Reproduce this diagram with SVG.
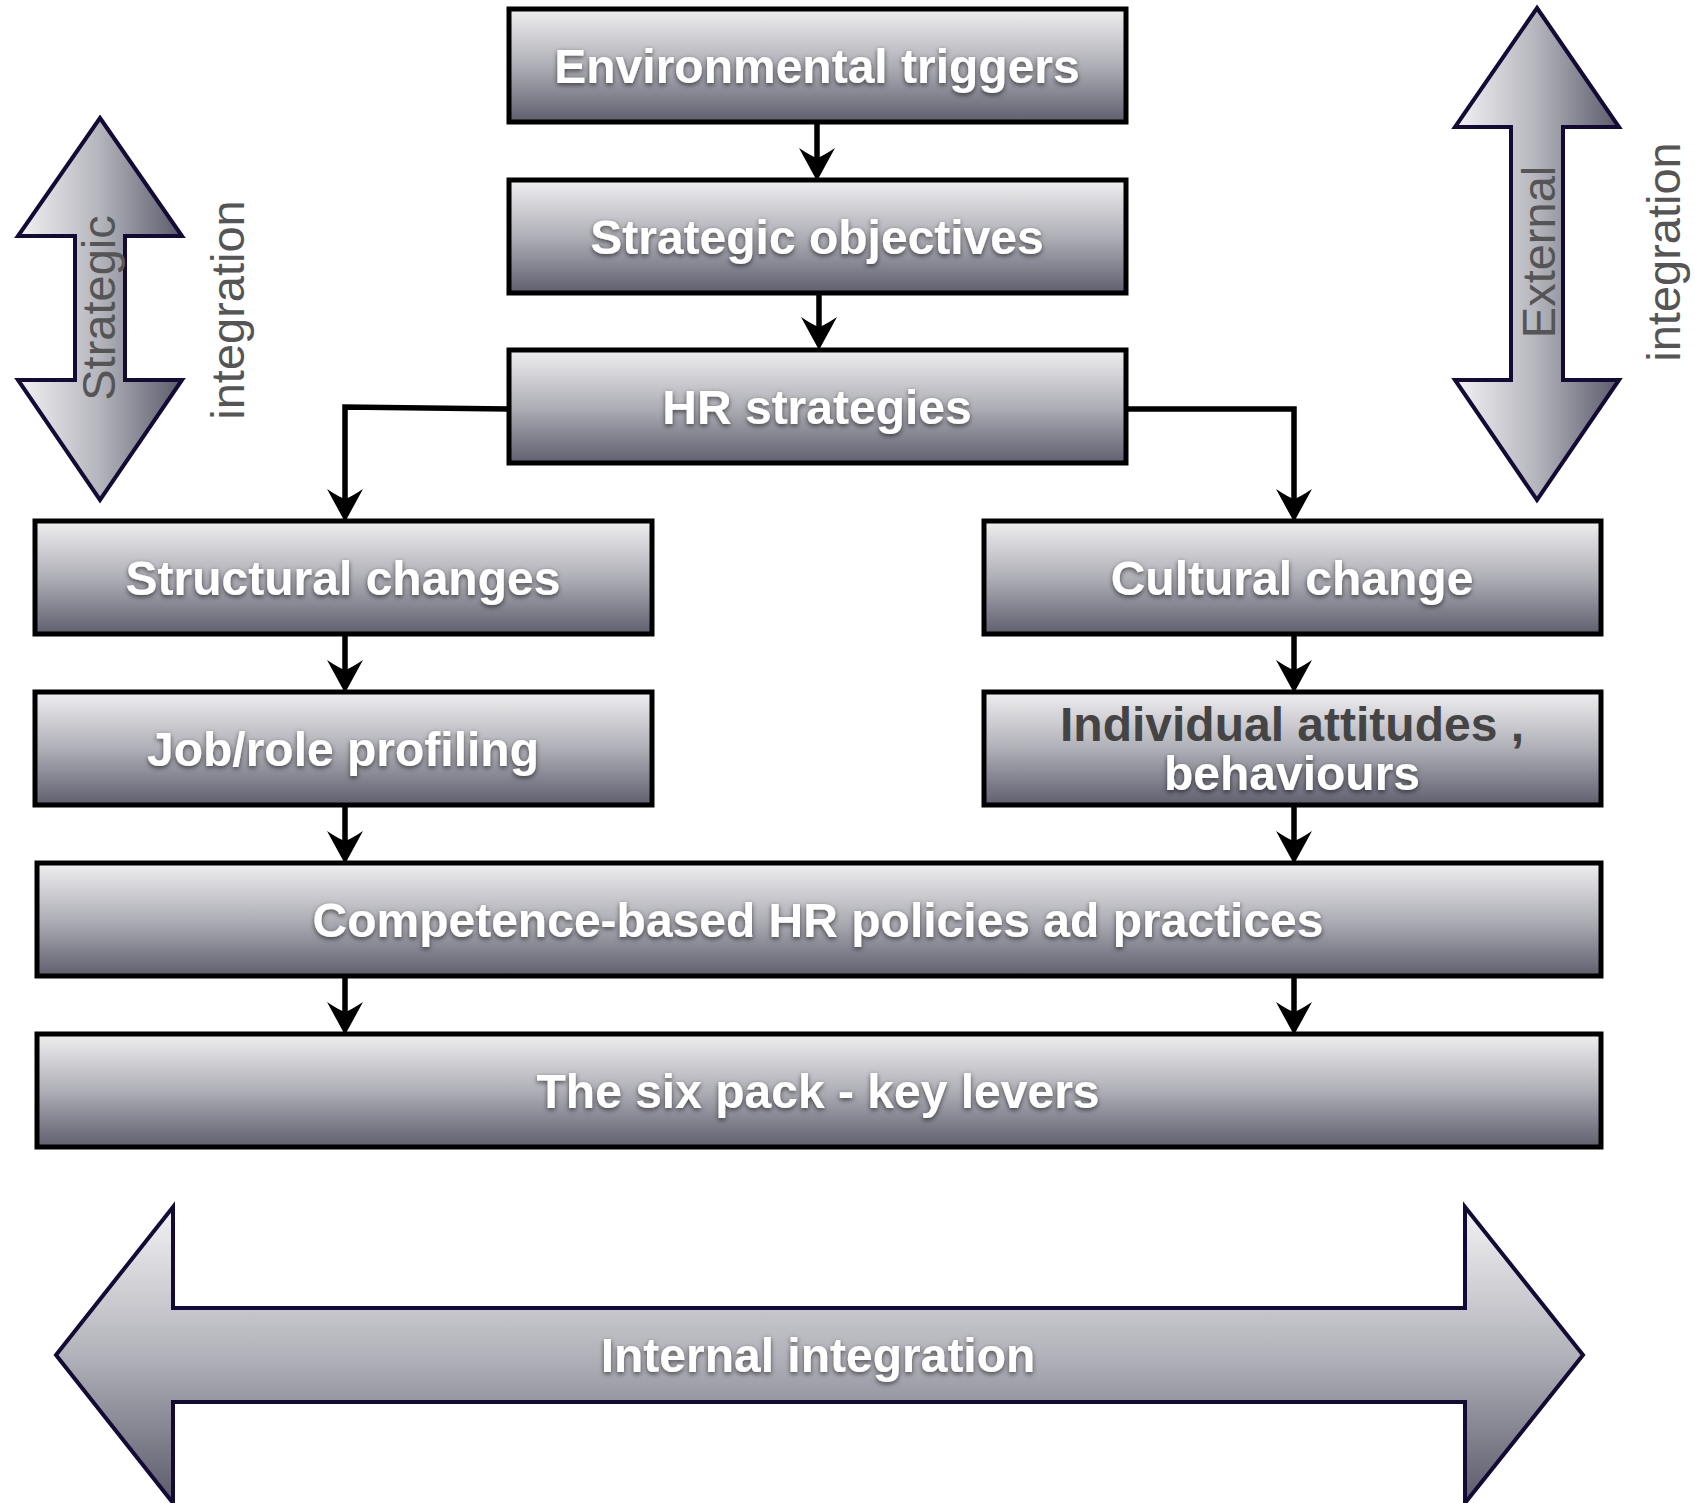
<svg xmlns="http://www.w3.org/2000/svg" width="1695" height="1503" viewBox="0 0 1695 1503">
<defs>
  <linearGradient id="boxGrad" x1="0" y1="0" x2="0" y2="1">
    <stop offset="0" stop-color="#efeff1"/>
    <stop offset="0.5" stop-color="#afafb7"/>
    <stop offset="1" stop-color="#5e5e6e"/>
  </linearGradient>
  <linearGradient id="vArrowGrad" x1="0" y1="0" x2="1" y2="0">
    <stop offset="0" stop-color="#f3f3f5"/>
    <stop offset="0.5" stop-color="#b4b4bc"/>
    <stop offset="1" stop-color="#5a5a6a"/>
  </linearGradient>
  <linearGradient id="hArrowGrad" x1="0" y1="0" x2="0" y2="1">
    <stop offset="0" stop-color="#f3f3f5"/>
    <stop offset="0.5" stop-color="#b2b2ba"/>
    <stop offset="1" stop-color="#5a5a6a"/>
  </linearGradient>
  <filter id="shadow" x="-10%" y="-30%" width="120%" height="160%">
    <feDropShadow dx="0" dy="2" stdDeviation="2.5" flood-color="#000" flood-opacity="0.6"/>
  </filter>
  <marker id="ah" markerUnits="userSpaceOnUse" viewBox="-14 -18 35 36" refX="0" refY="0" markerWidth="35" markerHeight="36" orient="auto" overflow="visible">
    <path d="M20,0 L-13,-18 Q-5,-6 -3,0 Q-5,6 -13,18 Z" fill="#000"/>
  </marker>
  <style>
    .box { fill: url(#boxGrad); stroke: #000; stroke-width: 5; }
    .lbl { font-family: "Liberation Sans", Arial, sans-serif; font-weight: bold; font-size: 48px; fill: #fff; text-anchor: middle; filter: url(#shadow); }
    .dark { fill: #444; filter: none; }
    .side { font-family: "Liberation Sans", Arial, sans-serif; font-size: 47px; fill: #555; text-anchor: middle; }
    .varrow { fill: url(#vArrowGrad); stroke: #140a36; stroke-width: 4; stroke-linejoin: miter; }
    .harrow { fill: url(#hArrowGrad); stroke: #140a36; stroke-width: 4; stroke-linejoin: miter; }
    .conn { fill: none; stroke: #000; stroke-width: 5.5; marker-end: url(#ah); }
  </style>
</defs>

<g id="strategic-integration">
  <path class="varrow" d="M100,118 L182,236 L125,236 L125,380 L182,380 L100,500 L18,380 L75,380 L75,236 L18,236 Z"/>
  <text class="side" font-size="48" transform="translate(115,308) rotate(-90)">Strategic</text>
  <text class="side" transform="translate(244,310) rotate(-90)">integration</text>
</g>

<g id="external-integration">
  <path class="varrow" d="M1537,8 L1619,127 L1563,127 L1563,380 L1619,380 L1537,500 L1455,380 L1511,380 L1511,127 L1455,127 Z"/>
  <text class="side" font-size="46" transform="translate(1555,252) rotate(-90)">External</text>
  <text class="side" transform="translate(1680,252) rotate(-90)">integration</text>
</g>

<g id="internal-integration">
  <path class="harrow" d="M56,1355 L173,1207 L173,1308 L1465,1308 L1465,1207 L1583,1355 L1465,1503 L1465,1402 L173,1402 L173,1503 Z"/>
  <text class="lbl" x="818" y="1372">Internal integration</text>
</g>

<g id="connectors">
  <path class="conn" d="M817,123 L817,161"/>
  <path class="conn" d="M819,293 L819,330"/>
  <path class="conn" d="M509,409 L345,407 L345,502"/>
  <path class="conn" d="M1126,409 L1294,409 L1294,502"/>
  <path class="conn" d="M345,634 L345,673"/>
  <path class="conn" d="M1294,634 L1294,673"/>
  <path class="conn" d="M345,805 L345,844"/>
  <path class="conn" d="M1294,805 L1294,844"/>
  <path class="conn" d="M345,976 L345,1015"/>
  <path class="conn" d="M1294,976 L1294,1015"/>
</g>

<g id="environmental-triggers">
  <rect class="box" x="509" y="9" width="617" height="113"/>
  <text class="lbl" x="817" y="83">Environmental triggers</text>
</g>
<g id="strategic-objectives">
  <rect class="box" x="509" y="180" width="617" height="113"/>
  <text class="lbl" x="817" y="254">Strategic objectives</text>
</g>
<g id="hr-strategies">
  <rect class="box" x="509" y="350" width="617" height="113"/>
  <text class="lbl" x="817" y="424">HR strategies</text>
</g>
<g id="structural-changes">
  <rect class="box" x="35" y="521" width="617" height="113"/>
  <text class="lbl" x="343" y="595">Structural changes</text>
</g>
<g id="cultural-change">
  <rect class="box" x="984" y="521" width="617" height="113"/>
  <text class="lbl" x="1292" y="595">Cultural change</text>
</g>
<g id="job-role-profiling">
  <rect class="box" x="35" y="692" width="617" height="113"/>
  <text class="lbl" x="343" y="766">Job/role profiling</text>
</g>
<g id="individual-attitudes">
  <rect class="box" x="984" y="692" width="617" height="113"/>
  <text class="lbl dark" x="1292" y="741">Individual attitudes ,</text>
  <text class="lbl" x="1292" y="790">behaviours</text>
</g>
<g id="competence-based">
  <rect class="box" x="37" y="863" width="1564" height="113"/>
  <text class="lbl" x="818" y="937">Competence-based HR policies ad practices</text>
</g>
<g id="six-pack">
  <rect class="box" x="37" y="1034" width="1564" height="113"/>
  <text class="lbl" x="818" y="1108">The six pack - key levers</text>
</g>
</svg>
